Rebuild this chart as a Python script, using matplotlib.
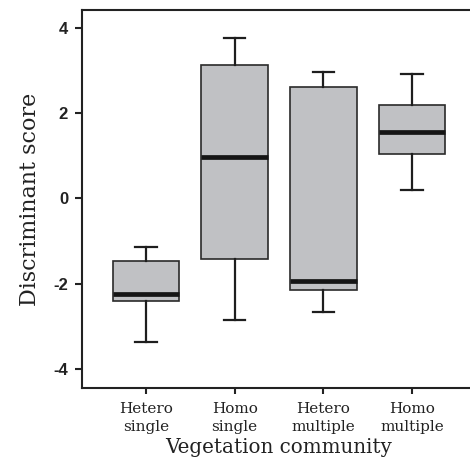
import matplotlib
matplotlib.use("Agg")
import matplotlib.pyplot as plt

categories = ["Hetero\nsingle", "Homo\nsingle", "Hetero\nmultiple", "Homo\nmultiple"]
whisker_low = [-3.36, -2.86, -2.67, 0.19]
q1 = [-2.42, -1.43, -2.16, 1.05]
medians = [-2.25, 0.97, -1.95, 1.56]
q3 = [-1.48, 3.13, 2.62, 2.19]
whisker_high = [-1.13, 3.77, 2.96, 2.92]
yticks = [-4, -2, 0, 2, 4]

plt.rcParams['axes.unicode_minus'] = False

fig = plt.figure(figsize=(4.70, 4.61), dpi=100)
ax = fig.add_axes([82 / 470, 73 / 461, 394 / 470, 378 / 461])

stats = []
for i in range(len(categories)):
  stats.append({
    "whislo": whisker_low[i],
    "q1": q1[i],
    "med": medians[i],
    "q3": q3[i],
    "whishi": whisker_high[i],
    "fliers": [],
  })

ax.bxp(stats, positions=range(1, len(categories) + 1), widths=0.75,
       patch_artist=True, showfliers=False,
       boxprops=dict(facecolor="#c0c1c4", edgecolor="#2a2a2a", linewidth=1.2),
       medianprops=dict(color="#151515", linewidth=3.4, solid_capstyle="butt"),
       whiskerprops=dict(color="#1e1e1e", linewidth=1.6),
       capprops=dict(color="#1e1e1e", linewidth=1.6),
       capwidths=0.24)

ax.set_xlim(0.28, 4.72)
ax.set_ylim(-4.45, 4.42)
ax.set_yticks(yticks)
ax.set_yticklabels([str(t) for t in yticks], family="Liberation Sans",
                   fontweight="bold", fontsize=12, color="#222222")
ax.set_xticks(range(1, len(categories) + 1))
ax.set_xticklabels(categories, family="DejaVu Serif", fontsize=11,
                   color="#222222", linespacing=1.35)

for side in ["left", "bottom", "top", "right"]:
  ax.spines[side].set_linewidth(1.5)
  ax.spines[side].set_color("#222222")
ax.tick_params(axis="both", direction="out", width=1.5, color="#222222")
ax.tick_params(axis="y", length=5, pad=5)
ax.tick_params(axis="x", length=4, pad=6)

ax.set_ylabel("Discriminant score", family="DejaVu Serif", fontsize=16,
              color="#222222", labelpad=9)
ax.set_xlabel("Vegetation community", family="DejaVu Serif", fontsize=14.3,
              color="#222222", labelpad=3)

plt.savefig("out.png", dpi=100)
